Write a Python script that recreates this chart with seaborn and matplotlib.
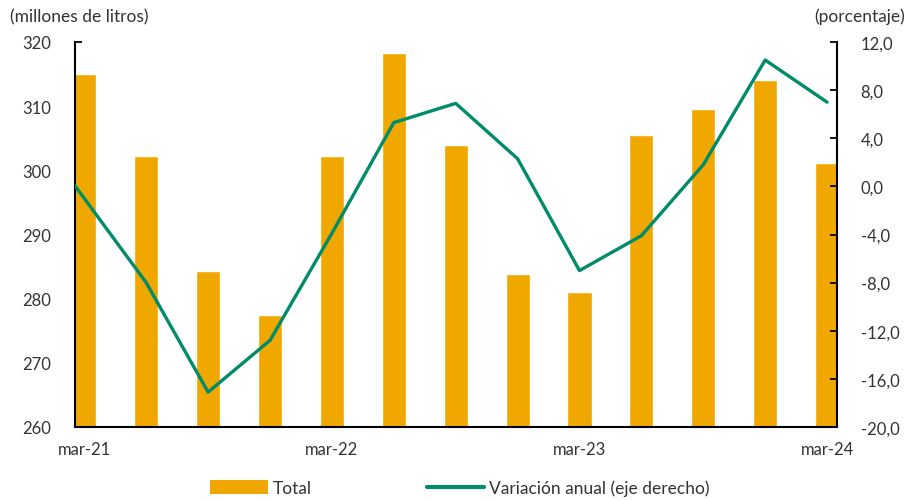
import numpy as np
import pandas as pd
import matplotlib
matplotlib.use("Agg")
import matplotlib.pyplot as plt
from matplotlib.ticker import FuncFormatter, FixedLocator
from matplotlib.patches import Patch
from matplotlib.lines import Line2D
import seaborn as sns

# quarterly data, mar-21 .. mar-24
periodos = ["mar-21", "jun-21", "sep-21", "dic-21", "mar-22", "jun-22", "sep-22",
            "dic-22", "mar-23", "jun-23", "sep-23", "dic-23", "mar-24"]
total = [315.0, 302.2, 284.3, 277.5, 302.2, 318.3, 303.9,
         283.9, 281.1, 305.5, 309.5, 314.1, 301.1]
variacion = [-1.0, -8.0, -17.1, -12.8, -3.9, 5.3, 6.9,
             2.3, -7.0, -4.1, 1.8, 10.5, 7.0]
variacion_previa = 6.0  # dic-20, only visible as the line entering from the left
etiquetas_x = ["mar-21", "mar-22", "mar-23", "mar-24"]

naranja = "#F0A800"
verde = "#008B69"
gris = "#333333"

sns.set_theme(style="white")
plt.rcParams["font.family"] = ["Lato", "DejaVu Sans"]
plt.rcParams["font.size"] = 12

df = pd.DataFrame({"periodo": periodos, "total": total})
pos = np.arange(-1, len(periodos))
df_var = pd.DataFrame({"pos": pos, "var": [variacion_previa] + variacion})

fig = plt.figure(figsize=(9.07, 5.02), dpi=100)
ax = fig.add_axes([75 / 907, 1 - 428 / 502, 762 / 907, 385 / 502])

sns.barplot(data=df, x="periodo", y="total", color=naranja, saturation=1,
            width=0.39, ax=ax)
ax.set_ylim(260, 320)
ax.set_yticks(range(260, 321, 10))
ax.set_xlim(-0.15, 12.16)
ax.set_xlabel("")
ax.set_ylabel("")

ax2 = ax.twinx()
sns.lineplot(data=df_var, x="pos", y="var", color=verde, lw=2.4, ax=ax2)
ax2.set_ylim(-20, 12)
ax2.set_yticks(np.arange(-20, 12.1, 4))
ax2.yaxis.set_major_formatter(FuncFormatter(lambda v, p: f"{v:.1f}".replace(".", ",")))
ax2.set_xlim(-0.15, 12.16)
ax2.set_ylabel("")

# x labels at the bar centres, small tick marks at the start of each year
ax.xaxis.set_major_locator(FixedLocator([0, 4, 8, 12]))
ax.set_xticklabels(etiquetas_x)
ax.xaxis.set_minor_locator(FixedLocator([3.84, 7.84, 11.84]))
ax.tick_params(axis="x", which="major", length=0, pad=10, labelsize=12, labelcolor=gris)
ax.tick_params(axis="x", which="minor", direction="in", length=5, width=1.3,
               color="black", bottom=True)
ax.tick_params(axis="y", direction="in", length=5, width=1.3, color="black",
               left=True, pad=17, labelsize=12, labelcolor=gris)
ax2.tick_params(axis="y", direction="in", length=5, width=1.3, color="black",
                right=True, pad=17, labelsize=12, labelcolor=gris)

for a in (ax, ax2):
    a.spines["top"].set_visible(False)
    for s in ("left", "right", "bottom"):
        a.spines[s].set_color("black")
        a.spines[s].set_linewidth(1.5)
ax.spines["right"].set_visible(False)
ax2.spines["left"].set_visible(False)
ax2.spines["bottom"].set_visible(False)

fig.text(10 / 907, 1 - 17 / 502, "(millones de litros)", ha="left", va="center",
         fontsize=12.5, color=gris)
fig.text(905 / 907, 1 - 17 / 502, "(porcentaje)", ha="right", va="center",
         fontsize=12.5, color=gris)

handles = [Patch(facecolor=naranja, edgecolor="none"),
           Line2D([0], [0], color=verde, lw=3)]
fig.legend(handles, ["Total", "Variación anual (eje derecho)"], ncol=2,
           loc="center", bbox_to_anchor=(460 / 907, 1 - 489 / 502), frameon=False,
           fontsize=12.5, handlelength=3.3, handleheight=0.9, handletextpad=0.3,
           columnspacing=6.6, labelcolor=gris)

fig.savefig("out.png", dpi=100)
